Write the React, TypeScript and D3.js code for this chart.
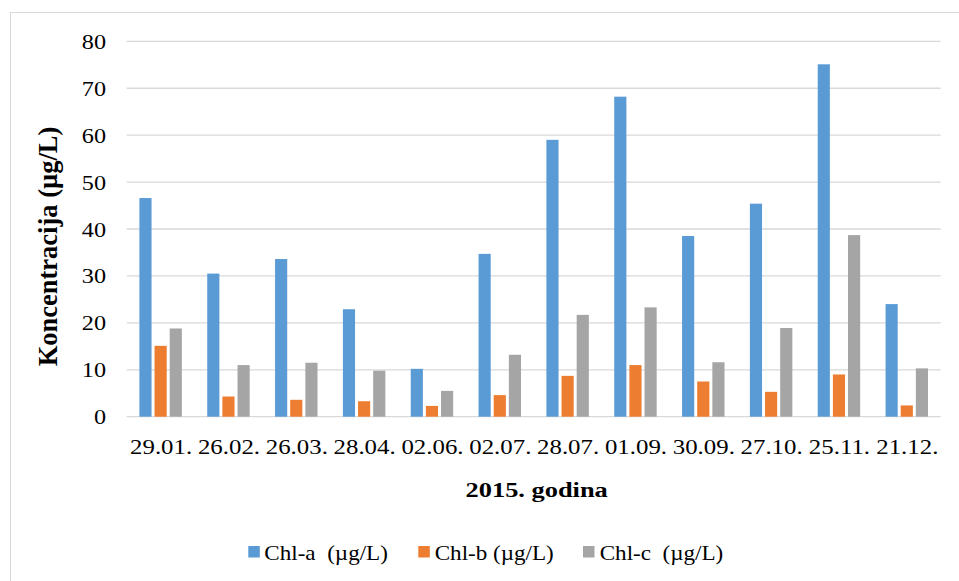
import React from "react";
import * as d3 from "d3";

const categories = ["29.01.", "26.02.", "26.03.", "28.04.", "02.06.", "02.07.", "28.07.", "01.09.", "30.09.", "27.10.", "25.11.", "21.12."];
const chlA = [46.6, 30.5, 33.6, 22.9, 10.2, 34.7, 59.0, 68.2, 38.5, 45.4, 75.1, 24.0];
const chlB = [15.1, 4.3, 3.6, 3.3, 2.3, 4.6, 8.7, 11.0, 7.5, 5.3, 9.0, 2.4];
const chlC = [18.8, 11.0, 11.5, 9.8, 5.5, 13.2, 21.7, 23.3, 11.6, 18.9, 38.7, 10.3];
const seriesNames = ["Chl-a  (µg/L)", "Chl-b (µg/L)", "Chl-c  (µg/L)"];
const yTicks = [0, 10, 20, 30, 40, 50, 60, 70, 80];

const colors = ["#5B9BD5", "#ED7D31", "#A5A5A5"];
const FONT = "Liberation Serif";

function SText({ x, y, sx, anchor, size, bold, children, fill = "#000" }: any) {
  return (
    <g transform={`translate(${x},${y}) scale(${sx},1)`}>
      <text
        textAnchor={anchor}
        fontSize={size}
        fontWeight={bold ? "bold" : "normal"}
        fill={fill}
        style={{ whiteSpace: "pre", fontFamily: FONT }}
      >
        {children}
      </text>
    </g>
  );
}

export default function App() {
  const W = 959, H = 581;
  const left = 126.7, right = 940.7, top = 41.3, bottom = 416.7;
  const series = [chlA, chlB, chlC];

  const x0 = d3.scaleBand<string>().domain(categories).range([left, right]).paddingInner(0.33).paddingOuter(0.165);
  const x1 = d3.scaleBand<number>().domain([0, 1, 2]).range([0, x0.bandwidth()]);
  const y = d3.scaleLinear().domain([0, 80]).range([bottom, top]);

  const legendItems = [
    { sq: 248.3, tx: 264.3 },
    { sq: 418.3, tx: 434.7 },
    { sq: 583, tx: 599.7 },
  ];

  return (
    <svg width={W} height={H} style={{ position: "absolute", left: 0, top: 0, background: "#fff" }}>
      <rect x={0} y={0} width={W} height={H} fill="#fff" />
      <rect x={10.5} y={12.5} width={1000} height={700} fill="none" stroke="#D9D9D9" strokeWidth={1} />
      {yTicks.map((t) => (
        <line key={t} x1={left} x2={right} y1={y(t)} y2={y(t)} stroke="#D9D9D9" strokeWidth={1.3} />
      ))}
      {series.map((vals, si) =>
        categories.map((c, ci) => {
          const bx = (x0(c) as number) + (x1(si) as number);
          const bw = x1.bandwidth();
          return (
            <rect
              key={`${si}-${ci}`}
              x={bx + 1.5}
              y={y(vals[ci])}
              width={bw - 3}
              height={y(0) - y(vals[ci])}
              fill={colors[si]}
            />
          );
        })
      )}
      {yTicks.map((t) => (
        <SText key={t} x={106} y={y(t) + 7.5} sx={1.1} anchor="end" size={22}>
          {String(t)}
        </SText>
      ))}
      {categories.map((c) => (
        <SText key={c} x={(x0(c) as number) + x0.bandwidth() / 2 + 0.5} y={454} sx={1.13} anchor="middle" size={22}>
          {c}
        </SText>
      ))}
      <SText x={536.7} y={497} sx={1.2} anchor="middle" size={22} bold>
        2015. godina
      </SText>
      <text
        transform={`translate(57,246.5) rotate(-90)`}
        textAnchor="middle"
        fontSize={26.5}
        fontWeight="bold"
        style={{ fontFamily: FONT }}
      >
        Koncentracija (µg/L)
      </text>
      {seriesNames.map((n, i) => (
        <g key={n}>
          <rect x={legendItems[i].sq} y={546} width={11.5} height={11.5} fill={colors[i]} />
          <SText x={legendItems[i].tx} y={559.5} sx={1.05} anchor="start" size={22}>
            {n}
          </SText>
        </g>
      ))}
    </svg>
  );
}
